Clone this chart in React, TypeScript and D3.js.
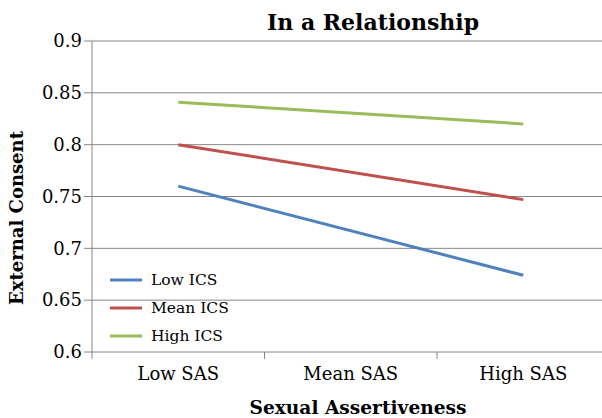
import React from "react";
import * as d3 from "d3";

const categories = ["Low SAS", "Mean SAS", "High SAS"];
const yTicks = [0.6, 0.65, 0.7, 0.75, 0.8, 0.85, 0.9];
const seriesNames = ["Low ICS", "Mean ICS", "High ICS"];
const seriesColors = ["#4F81BD", "#C0504D", "#9BBB59"];
// values at Low SAS and High SAS
const lowICS = [
  { cat: "Low SAS", v: 0.76 },
  { cat: "High SAS", v: 0.674 },
];
const meanICS = [
  { cat: "Low SAS", v: 0.8 },
  { cat: "High SAS", v: 0.747 },
];
const highICS = [
  { cat: "Low SAS", v: 0.841 },
  { cat: "High SAS", v: 0.82 },
];
const series = [lowICS, meanICS, highICS];

const W = 602;
const H = 418;
const left = 92;
const right = 609.5;
const top = 41;
const bottom = 352;
const FONT = "'DejaVu Serif', serif";

export default function App() {
  const x = d3.scaleBand<string>().domain(categories).range([left, right]);
  const y = d3.scaleLinear().domain([0.6, 0.9]).range([bottom, top]);
  const line = d3
    .line<{ cat: string; v: number }>()
    .x((d) => (x(d.cat) as number) + x.bandwidth() / 2)
    .y((d) => y(d.v));
  const boundaries = categories.map((c) => x(c) as number).concat([right]);

  return (
    <svg
      width={W}
      height={H}
      style={{ position: "absolute", left: 0, top: 0, background: "#fff" }}
      fontFamily={FONT}
    >
      {yTicks.map((t) => (
        <g key={t}>
          <line x1={left - 8} x2={W} y1={y(t)} y2={y(t)} stroke="#868686" strokeWidth={1} />
          <text x={82} y={y(t)} dy="0.35em" textAnchor="end" fontSize={18} fill="#000">
            {String(t)}
          </text>
        </g>
      ))}
      <line x1={left} x2={left} y1={top} y2={bottom} stroke="#868686" strokeWidth={1} />
      {boundaries.map((b, i) => (
        <line key={i} x1={b} x2={b} y1={bottom} y2={bottom + 7} stroke="#868686" strokeWidth={1} />
      ))}
      {categories.map((c) => (
        <text
          key={c}
          x={(x(c) as number) + x.bandwidth() / 2}
          y={380}
          textAnchor="middle"
          fontSize={18}
          fill="#000"
        >
          {c}
        </text>
      ))}
      {series.map((s, i) => (
        <path key={i} d={line(s) || ""} fill="none" stroke={seriesColors[i]} strokeWidth={3} />
      ))}
      {seriesNames.map((n, i) => (
        <g key={n}>
          <line x1={110} x2={142} y1={280 + i * 28} y2={280 + i * 28} stroke={seriesColors[i]} strokeWidth={3} />
          <text x={151} y={280 + i * 28} dy="0.35em" fontSize={15.5} fill="#000">
            {n}
          </text>
        </g>
      ))}
      <text x={373} y={30} textAnchor="middle" fontSize={22} fontWeight="bold" fill="#000">
        In a Relationship
      </text>
      <text x={358} y={414} textAnchor="middle" fontSize={18.6} fontWeight="bold" fill="#000">
        Sexual Assertiveness
      </text>
      <text
        transform="translate(23,218) rotate(-90)"
        textAnchor="middle"
        fontSize={18}
        fontWeight="bold"
        fill="#000"
      >
        External Consent
      </text>
    </svg>
  );
}
